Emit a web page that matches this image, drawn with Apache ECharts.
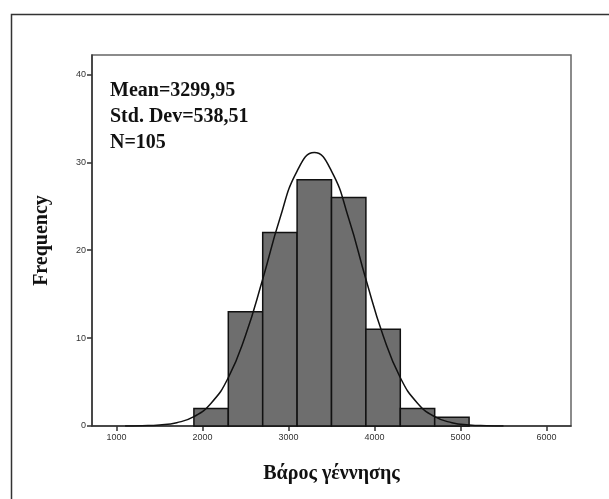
<!DOCTYPE html>
<html>
<head>
<meta charset="utf-8">
<script src="https://cdn.jsdelivr.net/npm/echarts@6/dist/echarts.min.js"></script>
<style>
  html, body { margin: 0; padding: 0; background: #fff; }
  #main { width: 609px; height: 499px; }
</style>
</head>
<body>
<div id="main"></div>
<script>
// histogram bins (lower edge, upper edge) and counts
var bin_start = [1900, 2300, 2700, 3100, 3500, 3900, 4300, 4700];
var bin_end = [2300, 2700, 3100, 3500, 3900, 4300, 4700, 5100];
var bin_count = [2, 13, 22, 28, 26, 11, 2, 1];

// normal curve
var curve_x = [1100, 1300, 1500, 1700, 1900, 2100, 2300, 2500, 2700, 2900, 3100, 3300,
               3500, 3700, 3900, 4100, 4300, 4500, 4700, 4900, 5100, 5300, 5500];
var curve_y = [0, 0.03, 0.12, 0.38, 1.06, 2.6, 5.5, 10.3, 16.7, 23.6, 29.0, 31.1,
               29.0, 23.6, 16.7, 10.3, 5.5, 2.6, 1.06, 0.38, 0.12, 0.03, 0];

var x_ticks = [1000, 2000, 3000, 4000, 5000, 6000];
var y_ticks = [0, 10, 20, 30, 40];

var stats_text = ['Mean=3299,95', 'Std. Dev=538,51', 'N=105'];

var chart = echarts.init(document.getElementById('main'));

var bar_data = [];
for (var i = 0; i < bin_count.length; i++) {
    bar_data.push([bin_start[i], bin_end[i], bin_count[i]]);
}
var line_data = [];
for (var i = 0; i < curve_x.length; i++) {
    line_data.push([curve_x[i], curve_y[i]]);
}

var serif = '"Liberation Serif", "DejaVu Serif", serif';
var sans = 'Arial, "Liberation Sans", sans-serif';

var option = {
    animation: false,
    grid: {
        left: 92, right: 38, top: 55, bottom: 73,
        show: true,
        borderColor: '#666',
        borderWidth: 1.5
    },
    xAxis: {
        type: 'value',
        min: 715,
        max: 6285,
        name: 'Βάρος γέννησης',
        nameLocation: 'middle',
        nameGap: 38,
        nameTextStyle: { fontFamily: serif, fontWeight: 'bold', fontSize: 20, color: '#111' },
        axisLine: { show: true, onZero: false, lineStyle: { color: '#333', width: 1.5 } },
        axisTick: { show: true, length: 5, customValues: x_ticks, lineStyle: { color: '#333', width: 1.5 } },
        axisLabel: {
            customValues: x_ticks, fontSize: 9, color: '#333', margin: 7, fontFamily: sans,
            formatter: function (v) { return String(v); }
        },
        splitLine: { show: false }
    },
    yAxis: {
        type: 'value',
        min: 0,
        max: 42.2,
        name: 'Frequency',
        nameLocation: 'middle',
        nameGap: 40,
        nameTextStyle: { fontFamily: serif, fontWeight: 'bold', fontSize: 20, color: '#111' },
        axisLine: { show: true, lineStyle: { color: '#333', width: 1.5 } },
        axisTick: { show: true, length: 5, customValues: y_ticks, lineStyle: { color: '#333', width: 1.5 } },
        axisLabel: {
            customValues: y_ticks, fontSize: 9, color: '#333', margin: 6, fontFamily: sans,
            formatter: function (v) { return String(v); }
        },
        splitLine: { show: false }
    },
    graphic: [
        {
            type: 'rect',
            left: 9, top: 12,
            shape: { width: 700, height: 600 },
            style: { fill: 'none', stroke: '#333', lineWidth: 1.5 },
            silent: true
        },
        {
            type: 'text',
            left: 110, top: 78,
            style: {
                text: stats_text.join('\n'),
                font: 'bold 20px ' + serif,
                lineHeight: 26,
                fill: '#111'
            }
        }
    ],
    series: [
        {
            type: 'custom',
            data: bar_data,
            encode: { x: [0, 1], y: 2 },
            renderItem: function (params, api) {
                var p0 = api.coord([api.value(0), 0]);
                var p1 = api.coord([api.value(1), api.value(2)]);
                return {
                    type: 'rect',
                    shape: { x: p0[0], y: p1[1], width: p1[0] - p0[0], height: p0[1] - p1[1] },
                    style: { fill: '#6e6e6e', stroke: '#111', lineWidth: 1.5 }
                };
            },
            z: 2
        },
        {
            type: 'line',
            data: line_data,
            smooth: true,
            showSymbol: false,
            lineStyle: { color: '#111', width: 1.5 },
            z: 3
        }
    ]
};
chart.setOption(option);
</script>
</body>
</html>
